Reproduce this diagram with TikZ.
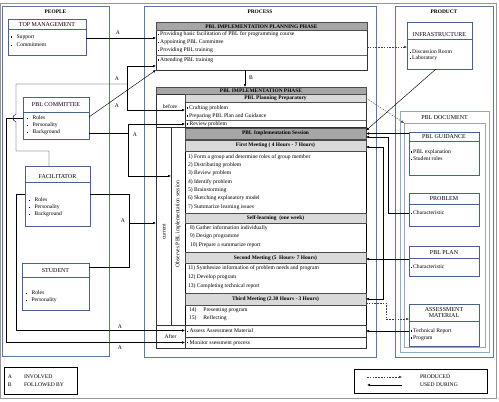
\documentclass[tikz,border=0pt]{standalone}
\usepackage{fontspec}
\setmainfont{Liberation Serif}
\usetikzlibrary{arrows.meta}
\definecolor{boxblue}{RGB}{72,98,140}
\definecolor{outblue}{RGB}{95,120,160}
\definecolor{docblue}{RGB}{150,168,192}
\definecolor{hdrdark}{RGB}{166,166,166}
\definecolor{hdrlight}{RGB}{217,217,217}
\definecolor{framegray}{RGB}{150,150,150}
\newcommand{\fs}{\fontsize{5.6}{6.4}\selectfont}
\newcommand{\fst}{\fontsize{6}{6.8}\selectfont}
\newcommand{\fsb}{\fontsize{5.4}{6.2}\selectfont\bfseries}
\newcommand{\sqb}{\raisebox{0.6pt}{\rule{1.3pt}{1.3pt}}}
\newcommand{\pb}{\raisebox{0.7pt}{\rule{1.1pt}{1.1pt}}}
\newcommand{\rbox}[6]{\node[#6, anchor=north west, minimum width={(#4-#2)*1pt}, minimum height={(#5-#3)*1pt}] (#1) at (#2,#3) {};}
\begin{document}
\begin{tikzpicture}[x=1pt,y=-1pt,
  bx/.style={draw=boxblue, line width=0.8pt, inner sep=0pt, outer sep=0pt},
  outerbox/.style={draw=outblue, line width=0.9pt, inner sep=0pt, outer sep=0pt},
  docbox/.style={draw=docblue, line width=0.7pt, inner sep=0pt, outer sep=0pt},
  pbox/.style={draw=black!80, line width=0.5pt, inner sep=0pt, outer sep=0pt},
  sessbox/.style={draw=black, line width=0.9pt, inner sep=0pt, outer sep=0pt},
  hd/.style={fill=hdrdark, draw=black!70, line width=0.4pt, inner sep=0pt, outer sep=0pt},
  hl/.style={fill=hdrlight, draw=black!70, line width=0.4pt, inner sep=0pt, outer sep=0pt},
  legbox/.style={draw=black, line width=0.8pt, inner sep=0pt, outer sep=0pt},
  txt/.style={font=\fs, inner sep=0pt, outer sep=0pt, anchor=west},
  ctxt/.style={font=\fs, inner sep=0pt},
  ttl/.style={font=\fst, inner sep=0pt},
  btxt/.style={font=\fsb, inner sep=0pt},
  conn/.style={line width=0.45pt, black},
  arr/.style={conn, -{Latex[length=3pt,width=2.6pt]}},
  arrboth/.style={conn, {Latex[length=3pt,width=2.6pt]}-{Latex[length=3pt,width=2.6pt]}},
  prodarr/.style={line width=0.4pt, black!75, dash pattern=on 1.6pt off 1.2pt, -{Latex[length=3pt,width=2.6pt]}},
  divb/.style={draw=boxblue, line width=0.8pt},
  divp/.style={draw=black!60, line width=0.4pt}
]
\useasboundingbox (0,0) rectangle (499,402);
\draw[framegray, line width=0.6pt] (0.5,3) rectangle (496.5,398);

% ---------- outer columns
\rbox{people}{2}{6}{109}{356}{outerbox}
\node[btxt] (peopleT) at (55.5,12) {PEOPLE};
\rbox{process}{144}{6}{376}{357}{outerbox}
\node[btxt] (processT) at (260,12) {PROCESS};
\rbox{product}{395}{6}{493}{357}{outerbox}
\node[btxt] (productT) at (444,12) {PRODUCT};

% ---------- PEOPLE
\rbox{tm}{8}{19}{86}{55}{bx}
\draw[divb] (8,29) -- (86,29);
\node[ttl] (tmT) at (47,24.5) {TOP MANAGEMENT};
\node[txt] (tm1) at (11,37) {\pb\hspace{4.5pt}Support};
\node[txt] (tm2) at (11,44.5) {\pb\hspace{4.5pt}Commitment};

\rbox{com}{23}{97}{89}{139}{bx}
\draw[divb] (23,112) -- (89,112);
\node[ttl] (comT) at (56,104.5) {PBL COMMITTEE};
\node[txt] (com1) at (27,118) {\pb\hspace{4.5pt}Roles};
\node[txt] (com2) at (27,125) {\pb\hspace{4.5pt}Personality};
\node[txt] (com3) at (27,132) {\pb\hspace{4.5pt}Background};

\rbox{fac}{25}{166}{90}{226}{bx}
\draw[divb] (25,182) -- (90,182);
\node[ttl] (facT) at (57.5,176.5) {FACILITATOR};
\node[txt] (fac1) at (29,200) {\pb\hspace{4.5pt}Roles};
\node[txt] (fac2) at (29,207) {\pb\hspace{4.5pt}Personality};
\node[txt] (fac3) at (29,214) {\pb\hspace{4.5pt}Background};

\rbox{stu}{22}{263}{89}{310}{bx}
\draw[divb] (22,277) -- (89,277);
\node[ttl] (stuT) at (55.5,271) {STUDENT};
\node[txt] (stu1) at (26,293) {\pb\hspace{4.5pt}Roles};
\node[txt] (stu2) at (26,300) {\pb\hspace{4.5pt}Personality};

% ---------- PROCESS: planning phase
\rbox{plan}{156}{22}{367}{70}{pbox}
\rbox{planH}{156}{22}{367}{30}{hd}
\node[btxt] (planT) at (261.5,26.3) {PBL IMPLEMENTATION PLANNING PHASE};
\node[txt] (p1) at (158,34.5) {\sqb\,Providing basic facilitation of PBL for programming course};
\node[txt] (p2) at (158,42.5) {\sqb\,Appointing PBL Committee};
\node[txt] (p3) at (158,50.5) {\sqb\,Providing PBL training};
\draw[divp] (156,55) -- (367,55);
\node[txt] (p4) at (158,60) {\sqb\,Attending PBL training};

% ---------- implementation phase
\rbox{impl}{156}{87}{366}{348}{pbox}
\rbox{implH}{156}{87}{366}{94}{hd}
\node[btxt] (implT) at (261,90.7) {PBL IMPLEMENTATION PHASE};
\rbox{befcol}{156}{94}{185}{127.5}{pbox}
\node[ctxt] (before) at (170,107) {before};
\rbox{prep}{185}{94}{366}{127.5}{pbox}
\rbox{prepH}{185}{94}{366}{102}{hl}
\node[btxt] (prepT) at (275.5,98.2) {PBL Planning Preparatory};
\node[txt] (c1) at (187,108) {\sqb\,Crafting problem};
\node[txt] (c2) at (187,116) {\sqb\,Preparing PBL Plan and Guidance};
\draw[divp] (185,120) -- (366,120);
\node[txt] (c3) at (187,124) {\sqb\ Review problem};

\rbox{curcol}{156}{127.5}{171}{325}{pbox}
\rbox{obscol}{171}{127.5}{185}{325}{pbox}
\node[ctxt, rotate=90] (cur) at (164,232) {current};
\node[ctxt, rotate=90] (obs) at (178,224) {Observes PBL implementation session};

\rbox{sess}{185}{128}{366}{325}{sessbox}
\rbox{sessH}{185}{128}{366}{139}{hd}
\node[btxt] (sessT) at (275.5,133.6) {PBL Implementation Session};
\rbox{fmH}{185}{140}{366}{151}{hl}
\node[btxt] (fmT) at (275.5,145.6) {First Meeting ( 4 Hours - 7 Hours)};
\node[txt] (f1) at (188,157) {1) Form a group and determine roles of group member};
\node[txt] (f2) at (188,165.3) {2) Distributing problem};
\node[txt] (f3) at (188,173.6) {3) Review problem};
\node[txt] (f4) at (188,182) {4) Identify problem};
\node[txt] (f5) at (188,190.3) {5) Brainstorming};
\node[txt] (f6) at (188,198.6) {6) Sketching explanatory model};
\node[txt] (f7) at (188,207) {7) Summarize learning issues};
\rbox{slH}{185}{213}{366}{223}{hl}
\node[btxt] (slT) at (275.5,218.2) {Self-learning\ \ (one week)};
\node[txt] (s8) at (190,228) {8) Gather information individually};
\node[txt] (s9) at (190,236.5) {9) Design programme};
\node[txt] (s10) at (190,245) {10) Prepare a summarize report};
\rbox{smH}{185}{252}{366}{263}{hl}
\node[btxt] (smT) at (275.5,257.8) {Second Meeting (5\ \ Hours- 7 Hours)};
\node[txt] (m11) at (188,268) {11) Synthesize information of problem needs and program};
\node[txt] (m12) at (188,277) {12) Develop program};
\node[txt] (m13) at (188,286.5) {13) Completing technical report};
\rbox{thmH}{185}{293}{366}{305}{hl}
\node[btxt] (thT) at (275.5,299.5) {Third Meeting (2.30 Hours - 3 Hours)};
\node[txt] (t14) at (189,310) {14)\hspace{7pt}Presenting program};
\node[txt] (t15) at (189,318.5) {15)\hspace{7pt}Reflecting};

\rbox{aftcol}{156}{325}{185}{348}{pbox}
\node[ctxt] (after) at (170.5,337) {After};
\rbox{assess}{185}{325}{366}{337}{pbox}
\rbox{monitor}{185}{337}{366}{348}{pbox}
\node[txt] (as1) at (187,331) {\sqb\ Assess Assessment Material};
\node[txt] (mo1) at (187,342.8) {\sqb\ Monitor ssessment process};

% B arrow
\draw[arr] (plan.south -| 245,0) -- (implH.north -| 245,0);
\node[ctxt] (Blbl) at (251,77.5) {B};

% ---------- PRODUCT
\rbox{infra}{407}{22}{472}{69}{bx}
\draw[divb] (407,39) -- (472,39);
\node[ttl] (infraT) at (439.5,34.5) {INFRASTRUCTURE};
\node[txt] (inf1) at (410,52) {\sqb\,Discussion Room};
\node[txt] (inf2) at (410,58.5) {\sqb\,Laboratory};

\rbox{doc}{400}{111}{489}{352}{docbox}
\node[ttl] (docT) at (444.5,117.5) {PBL DOCUMENT};
\rbox{docin}{404}{123}{485}{347}{docbox}

\rbox{guid}{409}{132}{479}{175}{bx}
\draw[divb] (409,141) -- (479,141);
\node[ttl] (guidT) at (444,136.6) {PBL GUIDANCE};
\node[txt] (g1) at (411,152) {\sqb\,PBL explanation};
\node[txt] (g2) at (411,158.5) {\sqb\,Student roles};

\rbox{prob}{409}{193}{479}{226}{bx}
\draw[divb] (409,204) -- (479,204);
\node[ttl] (probT) at (444,198.8) {PROBLEM};
\node[txt] (pr1) at (411,213) {\sqb\,Characteristic};

\rbox{pplan}{409}{246}{479}{276}{bx}
\draw[divb] (409,258) -- (479,258);
\node[ttl] (pplanT) at (444,252.3) {PBL PLAN};
\node[txt] (pp1) at (411,266.5) {\sqb\,Characteristic};

\rbox{assm}{409}{304}{479}{346}{bx}
\draw[divb] (409,321) -- (479,321);
\node[ttl] (assmT1) at (444,309.5) {ASSESSMENT};
\node[ttl] (assmT2) at (444,316) {MATERIAL};
\node[txt] (am1) at (411,331) {\sqb\,Technical Report};
\node[txt] (am2) at (411,338) {\sqb\,Program};

% ---------- PEOPLE -> PROCESS connectors
\draw[arr] (tm.east |- 0,38) -- (plan.west |- 0,38);
\node[ctxt] (a1) at (118,32.5) {A};
\draw[arr] (com.east |- 0,117) -- (plan.south west);

\coordinate (jf) at (127,84);
\draw[conn] (fac.north -| 49,0) -- (49,151) -- (16,151) -- (16,121.5)
  .. controls (12,121.5) and (12,114.5) .. (16,114.5) -- (16,84) -- (jf);
\draw[arr] (jf) -- (127,66) -- (plan.west |- 0,66);
\draw[arr] (jf) -- (127,110) -- (prep.west |- 0,110);
\node[ctxt] (a2) at (117,79) {A};
\node[ctxt] (a3) at (117,106) {A};

\coordinate (jc) at (128,133);
\draw[conn] (com.east |- 0,133) -- (jc);
\draw[arr] (jc) -- (128,124) -- (prep.west |- 0,124);
\draw[arr] (jc) -- (128,176) -- (obscol.west |- 0,176);
\node[ctxt] (a4) at (135,135) {A};

\coordinate (js) at (129,223);
\draw[conn] (fac.east |- 0,194) -- (129,194) -- (129,267) -- (stu.east |- 0,267);
\draw[arr] (js) -- (curcol.west |- 0,223);
\node[ctxt] (a5) at (123,221) {A};

\draw[arr] (fac.west |- 0,194) -- (16,194) -- (16,330.5) -- (assess.west |- 0,330.5);
\node[ctxt] (a6) at (120,326.5) {A};
\draw[arr] (com.west |- 0,118) -- (6,118) -- (6,342.5) -- (monitor.west |- 0,342.5);
\node[ctxt] (a7) at (120,348) {A};

% ---------- PROCESS <-> PRODUCT connectors
\draw[prodarr] (plan.east |- 0,47) -- (infra.west |- 0,47);
\draw[arr] (infra.south -| 436,0) -- (sessH.east |- 0,130.5);
\draw[prodarr] (prepH.east) -- (docin.north west);
\draw[arr] (guid.west |- 0,133.5) -- (sessH.east |- 0,133.5);
\draw[arr] (prob.west |- 0,213) -- (388,213) -- (388,137) -- (sessH.east |- 0,137);
\draw[arrboth] (fmH.east |- 0,147) -- (383,147) -- (383,299) -- (thmH.east |- 0,299);
\draw[arr] (pplan.west |- 0,259) -- (smH.east |- 0,259);
\draw[prodarr] (thmH.east |- 0,303) -- (386,303) -- (386,319) -- (assm.west |- 0,319);
\draw[arr] (assm.west |- 0,331) -- (assess.east |- 0,331);

% ---------- legends
\rbox{legA}{4}{367}{77}{394}{legbox}
\node[txt] (lA) at (8,377) {A};
\node[txt] (lAt) at (24,377) {INVOLVED};
\node[txt] (lB) at (8,385) {B};
\node[txt] (lBt) at (24,385) {FOLLOWED BY};

\rbox{legB}{354}{369}{487}{393}{legbox}
\coordinate (lp1) at (367,377);
\coordinate (lp2) at (402,377);
\coordinate (lu1) at (402,385);
\coordinate (lu2) at (367,385);
\draw[prodarr] (lp1) -- (lp2);
\draw[conn, line width=0.9pt, -{Latex[length=3.2pt,width=3pt]}] (lu1) -- (lu2);
\node[txt] (lP) at (420,377) {PRODUCED};
\node[txt] (lU) at (420,385) {USED DURING};
\end{tikzpicture}
\end{document}
